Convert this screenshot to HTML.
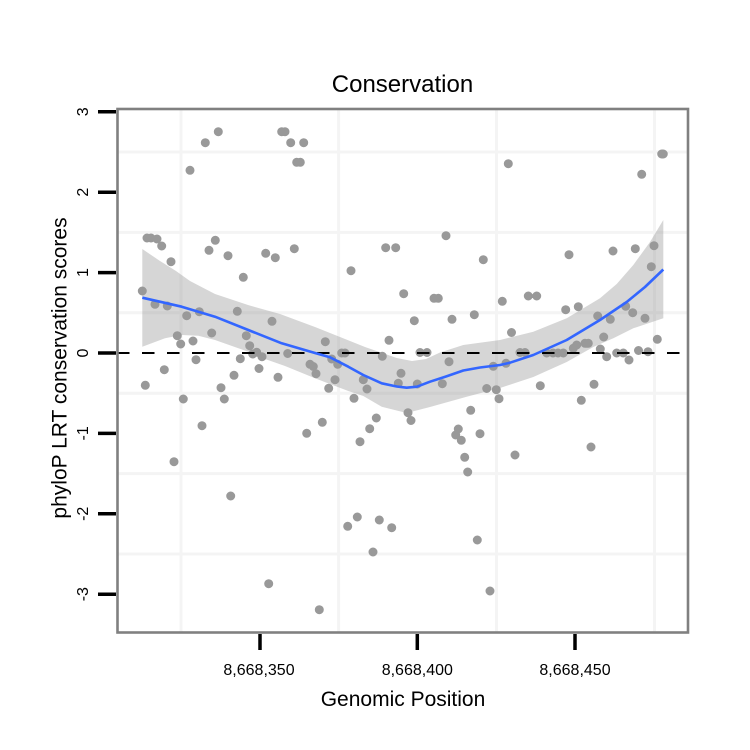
<!DOCTYPE html>
<html><head><meta charset="utf-8"><style>
html,body{margin:0;padding:0;background:#fff;}
svg{display:block;}
text{font-family:"Liberation Sans",Arial,sans-serif;fill:#000;}
</style></head><body>
<svg width="750" height="750" viewBox="0 0 750 750" xmlns="http://www.w3.org/2000/svg">
<rect width="750" height="750" fill="#fff"/>
<path stroke="#f4f4f4" stroke-width="3" fill="none" d="M118 152H688M118 232.4H688M118 312.8H688M118 393.2H688M118 473.6H688M118 554H688M181 109V632M338.6 109V632M496.5 109V632M654.5 109V632"/>
<path stroke="#999999" stroke-width="9" stroke-linecap="round" fill="none" d="M142.3 291h0M147 238h0M151 238h0M157 239h0M161.7 246h0M171 261.7h0M155 304.3h0M167.3 306h0M186.7 315.7h0M199.3 311.7h0M177.3 335.7h0M180.7 344h0M193 341h0M196 359.7h0M164.3 369.7h0M145.3 385.3h0M183.3 399h0M174 461.7h0M202 425.7h0M190 170.3h0M205.3 142.7h0M218.3 131.7h0M209 250.3h0M215.3 240.3h0M228 255.7h0M243.3 277.3h0M237.3 311.3h0M211.7 333h0M246.3 335.7h0M249.7 345.7h0M252.7 354h0M256.7 352.3h0M262 356.7h0M240.3 358.7h0M259 368.5h0M234 375.3h0M221 387.7h0M224.3 399h0M230.7 496h0M278 377.3h0M287.7 353.5h0M268.7 583.7h0M265.7 253.3h0M275.3 257.7h0M294.3 248.7h0M272 321.3h0M281.7 131.7h0M285 131.7h0M290.7 142.7h0M303.7 142.7h0M296.7 162.3h0M300.3 162.3h0M310 364.3h0M313.3 366.5h0M316 373.7h0M325.3 341.7h0M331.7 359h0M337.7 364.3h0M341.7 353h0M345 353h0M328.7 388.3h0M335 379.7h0M306.7 433.3h0M322.3 422.3h0M319.3 609.7h0M351 270.7h0M385.7 247.7h0M395.7 247.7h0M389 340.3h0M382.3 356.3h0M354 398.3h0M363.3 379.7h0M367 389h0M376.3 418h0M369.7 428.7h0M360 441.7h0M347.7 526.3h0M357.3 517h0M379.3 520h0M391.7 527.7h0M373 552h0M398.3 383.3h0M401 373.3h0M403.7 293.7h0M408 412.7h0M411 420.5h0M417.3 384h0M442.3 383.7h0M449 361.7h0M414.3 320.7h0M434 298.3h0M438.3 298.3h0M446 235.7h0M452 319.3h0M474.3 314.7h0M483.3 259.7h0M420 352.5h0M427 352.5h0M470.7 410.3h0M458.3 429h0M455.7 435h0M461.3 440.3h0M480 433.7h0M464.7 457.3h0M467.7 472h0M515 455h0M477.3 540h0M490 591h0M486.7 388.5h0M496.3 389.7h0M499 398.7h0M493.3 366.3h0M506 363.3h0M502.3 301.3h0M508.3 163.7h0M511.5 332.5h0M520 352.5h0M525 352.5h0M528.3 296h0M536.7 296h0M540.3 385.7h0M546.7 353h0M553 353h0M558 353h0M563.3 353h0M565.7 309.7h0M578.3 306.7h0M569 254.7h0M573.3 348.3h0M576.7 345h0M585 343.3h0M588.3 343.3h0M581.3 400.3h0M594 384.3h0M591 447h0M600.3 349h0M606.7 356.7h0M603.7 337h0M597.7 316h0M610.3 319.3h0M613 251h0M616.7 353h0M623.3 353h0M629 360h0M625.7 306.3h0M632.7 312.7h0M645 318.3h0M635.3 248.7h0M654 245.7h0M651.3 266.7h0M638.5 350.5h0M648 351.7h0M657.3 339.3h0M641.7 174.3h0M661.7 154h0M663.3 154h0"/>
<path fill="rgba(153,153,153,0.4)" d="M142.3,249 L160,261 L176,271 L190,281 L215,294 L248,305 L280,314 L315,327 L345,339 L365,347 L396.7,358 L412,361 L426,359 L440,352.5 L463.3,345 L500,340 L533.3,331.7 L566.7,318.3 L600,298.3 L616.7,284 L633.3,265 L650,242 L663.3,220 L663.3,318.3 L633.3,328.3 L613.3,338.3 L593.3,347 L566.7,362 L533.3,377 L500,388 L466.7,396.7 L430,407 L406.7,413 L381.7,406.7 L363.3,396 L348.3,391 L315,378.3 L285,366 L265,359 L248.3,351.7 L215,340 L198.3,335.7 L181.7,335 L165,338.3 L142.3,346.7 Z"/>
<line x1="117" x2="688" y1="353" y2="353" stroke="#000" stroke-width="2" stroke-dasharray="12.5 12.5"/>
<path fill="none" stroke="#3366FF" stroke-width="2.6" stroke-linejoin="round" d="M142.3,297.7 L181.7,306.7 L215,316.7 L248.3,330 L281.7,343.3 L315,353 L330,357.3 L348.3,366.7 L363.3,375 L381.7,383.3 L396.7,386.5 L406.7,387.7 L417,386.7 L430,381.7 L446,376.5 L463.3,370.5 L480,367.5 L500,365 L510,362.7 L533.3,355 L566.7,340 L600,320 L626.7,302 L645,287 L663.3,269.5"/>
<rect x="117.5" y="109" width="570.5" height="523.5" fill="none" stroke="#808080" stroke-width="2.6"/>
<path stroke="#000" stroke-width="3.5" fill="none" d="M98 111.8H116M98 192.2H116M98 272.6H116M98 353H116M98 433.4H116M98 513.8H116M98 594.2H116M260 634V650M417.3 634V650M575 634V650"/>
<g font-size="16" text-anchor="middle">
<text transform="translate(88,111.8) rotate(-90)">3</text>
<text transform="translate(88,192.2) rotate(-90)">2</text>
<text transform="translate(88,272.6) rotate(-90)">1</text>
<text transform="translate(88,353) rotate(-90)">0</text>
<text transform="translate(88,433.4) rotate(-90)">-1</text>
<text transform="translate(88,513.8) rotate(-90)">-2</text>
<text transform="translate(88,594.2) rotate(-90)">-3</text>
<text x="259" y="675">8,668,350</text>
<text x="417.3" y="675">8,668,400</text>
<text x="575" y="675">8,668,450</text>
</g>
<text x="403" y="706" font-size="21" text-anchor="middle">Genomic Position</text>
<text transform="translate(66.5,368) rotate(-90)" font-size="21" text-anchor="middle">phyloP LRT conservation scores</text>
<text x="402.5" y="92" font-size="24" text-anchor="middle">Conservation</text>
</svg>
</body></html>
